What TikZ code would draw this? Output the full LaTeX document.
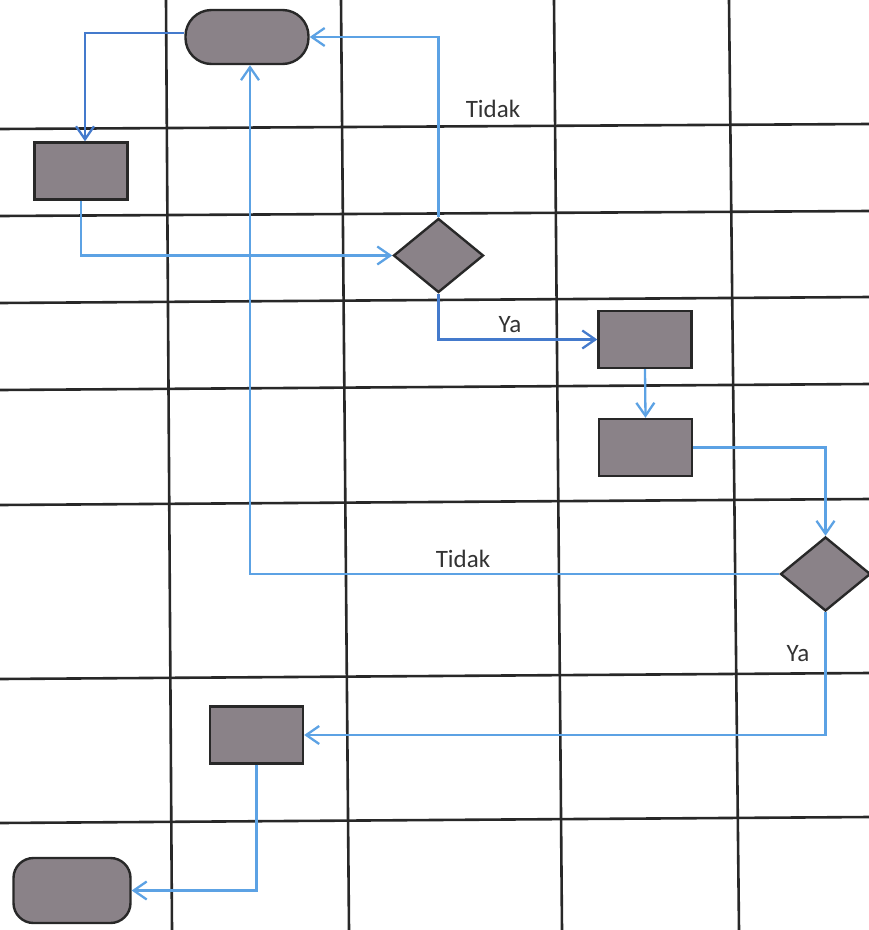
\documentclass[tikz,border=0pt]{standalone}
\usepackage{fontspec}
\setmainfont{Carlito}
\usetikzlibrary{shapes.geometric,arrows.meta}
\definecolor{gridc}{RGB}{40,40,40}
\definecolor{boxfill}{RGB}{138,130,136}
\definecolor{boxline}{RGB}{40,40,40}
\definecolor{lblue}{RGB}{92,162,228}
\definecolor{dblue}{RGB}{68,122,204}
\tikzset{
  gridline/.style={draw=gridc,line width=2.6pt},
  procbox/.style={draw=boxline,fill=boxfill,line width=2.4pt,inner sep=0pt,minimum width=93pt,minimum height=57pt},
  termbox/.style={draw=boxline,fill=boxfill,line width=2.4pt,inner sep=0pt,rounded corners=26pt,minimum width=123pt,minimum height=54pt},
  endbox/.style={draw=boxline,fill=boxfill,line width=2.4pt,inner sep=0pt,rounded corners=20pt,minimum width=117pt,minimum height=65pt},
  decbox/.style={diamond,draw=boxline,fill=boxfill,line width=2.4pt,inner sep=0pt,minimum width=90pt,minimum height=74pt},
  flow/.style={draw=lblue,line width=2.3pt,-{Straight Barb[length=13pt,width=18pt,line width=2.3pt]}},
  flowd/.style={flow,draw=dblue},
  lbl/.style={font=\fontsize{25}{30}\selectfont,text=black!80,anchor=base,inner sep=0pt}
}
\begin{document}
\begin{tikzpicture}[x=1pt,y=-1pt]
\clip (0,0) rectangle (869,930);
\fill[white] (0,0) rectangle (869,930);
% grid
\draw[gridline] (0,129) -- (869,124);
\draw[gridline] (0,216) -- (869,211);
\draw[gridline] (0,303) -- (869,297);
\draw[gridline] (0,390) -- (869,384);
\draw[gridline] (0,505) -- (869,499);
\draw[gridline] (0,679) -- (869,673);
\draw[gridline] (0,823) -- (869,817);
\draw[gridline] (166,0) -- (172,930);
\draw[gridline] (341,0) -- (349,930);
\draw[gridline] (554,0) -- (562,930);
\draw[gridline] (729,0) -- (739,930);
% nodes
\node[termbox] (start) at (247,37) {};
\node[procbox] (r1) at (81,171) {};
\node[decbox] (d1) at (438.5,255.5) {};
\node[procbox] (r2) at (645,339.5) {};
\node[procbox] (r3) at (645.5,447.5) {};
\node[decbox] (d2) at (825.5,574) {};
\node[procbox] (r4) at (256.5,735) {};
\node[endbox] (stop) at (72,890.5) {};
% connectors
\draw[flowd] ([yshift=4pt]start.west) -| ([xshift=4pt]r1.north);
\draw[flow] (r1.south) |- (d1.west);
\draw[flow] (d1.north) |- (start.east);
\draw[flowd] (d1.south) |- (r2.west);
\draw[flow] (r2.south) -- (r3.north);
\draw[flow] (r3.east) -| (d2.north);
\draw[flow] (d2.west) -| ([xshift=3pt]start.south);
\draw[flow] (d2.south) |- (r4.east);
\draw[flow] (r4.south) |- (stop.east);
% labels
\node[lbl] (t1) at (493,117) {Tidak};
\node[lbl] (t2) at (463,567) {Tidak};
\node[lbl] (y1) at (510,332) {Ya};
\node[lbl] (y2) at (798,661) {Ya};
\end{tikzpicture}
\end{document}
